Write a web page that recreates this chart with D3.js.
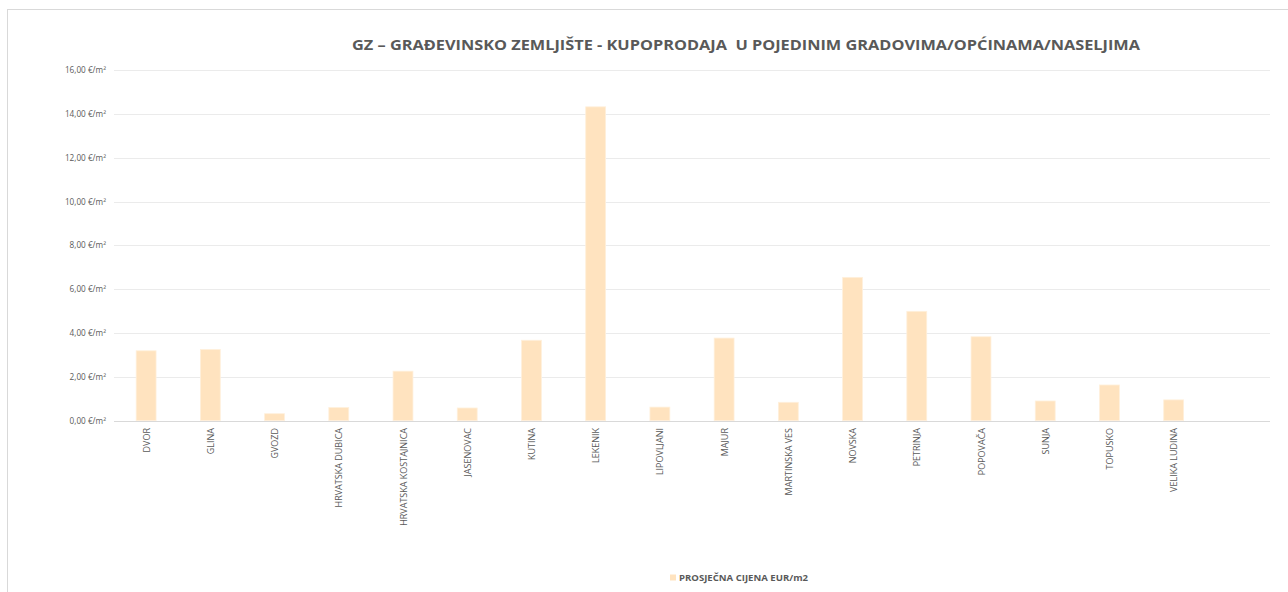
<!DOCTYPE html>
<html><head><meta charset="utf-8">
<script src="https://cdn.jsdelivr.net/npm/d3@7/dist/d3.min.js"></script>
<style>body{margin:0;background:#fff;} svg{display:block;}</style>
</head><body>
<script>
const categories = ["DVOR","GLINA","GVOZD","HRVATSKA DUBICA","HRVATSKA KOSTAJNICA","JASENOVAC","KUTINA","LEKENIK","LIPOVLJANI","MAJUR","MARTINSKA VES","NOVSKA","PETRINJA","POPOVAČA","SUNJA","TOPUSKO","VELIKA LUDINA",""];
const values = [3.19,3.25,0.32,0.60,2.26,0.58,3.67,14.32,0.62,3.77,0.84,6.54,4.99,3.83,0.90,1.63,0.95,null];
const yTicks = [0,2,4,6,8,10,12,14,16];
const titleText = "GZ – GRAĐEVINSKO ZEMLJIŠTE - KUPOPRODAJA  U POJEDINIM GRADOVIMA/OPĆINAMA/NASELJIMA";
const seriesName = "PROSJEČNA CIJENA EUR/m2";

const W = 1288, H = 592;
const svg = d3.select("body").append("svg").attr("width", W).attr("height", H);
const font = "'Open Sans', 'Liberation Sans', sans-serif";

// chart border
svg.append("rect").attr("x", 7.5).attr("y", 9.5).attr("width", W + 10).attr("height", H + 10)
  .attr("fill", "none").attr("stroke", "#d9d9d9").attr("stroke-width", 1);

const x = d3.scaleBand().domain(categories).range([114, 1270]).paddingInner(0.69).paddingOuter(0.345);
const y = d3.scaleLinear().domain([0, 16]).range([420.7, 70]);

// gridlines
svg.append("g").selectAll("line").data(yTicks.filter(d => d > 0)).join("line")
  .attr("x1", 114).attr("x2", 1270)
  .attr("y1", d => Math.round(y(d)) + 0.5).attr("y2", d => Math.round(y(d)) + 0.5)
  .attr("stroke", "#ebebeb").attr("stroke-width", 1);

// y axis labels
const fmt = d => d.toFixed(2).replace(".", ",") + " €/m²";
const yAxis = d3.axisLeft(y).tickValues(yTicks).tickFormat(fmt).tickSize(0).tickPadding(8);
const ya = svg.append("g").attr("transform", "translate(114,0)").call(yAxis);
ya.select(".domain").remove();
ya.selectAll("text").attr("font-family", font).attr("font-size", 8.2).attr("fill", "#595959");

// bars
svg.append("g").selectAll("rect").data(categories.map((c, i) => ({c, v: values[i]})).filter(d => d.v != null)).join("rect")
  .attr("x", d => x(d.c)).attr("width", x.bandwidth())
  .attr("y", d => y(d.v)).attr("height", d => y(0) - y(d.v))
  .attr("fill", "#ffe3bf").attr("stroke", "#fff0dc").attr("stroke-width", 0.8);

// x axis baseline
svg.append("line").attr("x1", 114).attr("x2", 1270).attr("y1", 421.5).attr("y2", 421.5)
  .attr("stroke", "#d9d9d9").attr("stroke-width", 1);

// x labels
const xAxis = d3.axisBottom(x).tickSize(0).tickPadding(0);
const xa = svg.append("g").attr("transform", "translate(0,421)").call(xAxis);
xa.select(".domain").remove();
xa.selectAll("text")
  .attr("font-family", font).attr("font-size", 9).attr("fill", "#595959")
  .attr("text-anchor", "end").attr("dy", null).attr("y", 0)
  .attr("transform", "translate(3.5,7) rotate(-90)");

// title
svg.append("text").attr("x", 746).attr("y", 50).attr("text-anchor", "middle")
  .attr("font-family", font).attr("font-weight", "bold").attr("font-size", 14.5)
  .attr("fill", "#595959").attr("textLength", 788).attr("lengthAdjust", "spacingAndGlyphs")
  .attr("xml:space", "preserve")
  .text(titleText);

// legend
svg.append("rect").attr("x", 670).attr("y", 574.5).attr("width", 6).attr("height", 6).attr("fill", "#ffe3bf");
svg.append("text").attr("x", 679).attr("y", 581)
  .attr("font-family", font).attr("font-weight", "bold").attr("font-size", 8.5).attr("fill", "#595959")
  .attr("textLength", 129).attr("lengthAdjust", "spacingAndGlyphs")
  .text(seriesName);
</script>
</body></html>
